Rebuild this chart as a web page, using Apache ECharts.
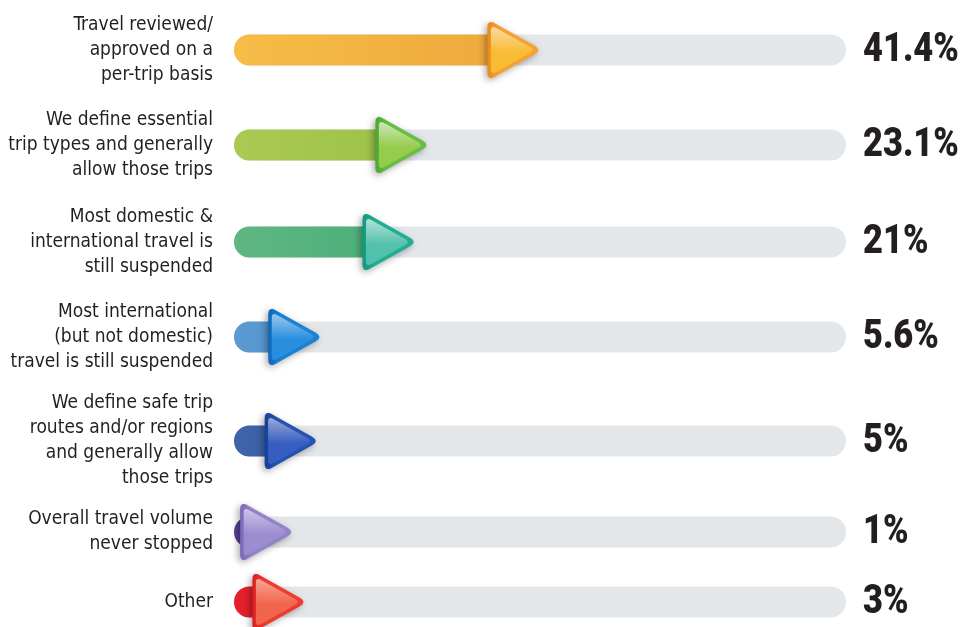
<!DOCTYPE html>
<html>
<head>
<meta charset="utf-8">
<script src="https://cdn.jsdelivr.net/npm/echarts@6/dist/echarts.min.js"></script>
<style>
  html, body { margin: 0; padding: 0; background: #ffffff; }
  #chart { width: 960px; height: 627px; }
</style>
</head>
<body>
<div id="chart"></div>
<script>
// Survey answers (share of respondents, %)
const categories = [
  'Travel reviewed/\napproved on a\nper-trip basis',
  'We define essential\ntrip types and generally\nallow those trips',
  'Most domestic &\ninternational travel is\nstill suspended',
  'Most international\n(but not domestic)\ntravel is still suspended',
  'We define safe trip\nroutes and/or regions\nand generally allow\nthose trips',
  'Overall travel volume\nnever stopped',
  'Other'
];
const values = [41.4, 23.1, 21, 5.6, 5, 1, 3];
const valueLabels = values.map(v => v + '%');

// Layout: vertical centre of each row (px) and track geometry
const rowCenters = [50, 145, 242, 337, 441, 532, 602];
const trackLeft = 234;
const trackRight = 114;
const barH = 31;
const arrowW = 55;
const arrowH = 62;

// Colours per row: bar start/end, arrow rim, arrow gloss top/bottom
const palettes = [
  { bar: ['#f6bd47', '#efa83c'], rimL: '#e98a1e', rim: '#f6a232', hiT: '#fde0b4', hiB: '#f9bf33' },
  { bar: ['#abc953', '#9cc24a'], rimL: '#4aa832', rim: '#68bd44', hiT: '#d8edc2', hiB: '#9ccd4e' },
  { bar: ['#5fb783', '#4baf79'], rimL: '#0f9a80', rim: '#1fae92', hiT: '#c4e8df', hiB: '#5ac3ae' },
  { bar: ['#5c9ad2', '#5594cf'], rimL: '#0e68b8', rim: '#1a82d4', hiT: '#a9d0f1', hiB: '#2b90e0' },
  { bar: ['#4064aa', '#3b5fa6'], rimL: '#173f9a', rim: '#2454b2', hiT: '#a6b3dd', hiB: '#3a5fc2' },
  { bar: ['#5a3f98', '#553b93'], rimL: '#7a66b8', rim: '#9483c8', hiT: '#d3cbea', hiB: '#9d8dd1' },
  { bar: ['#e3202b', '#e01e28'], rimL: '#d81f22', rim: '#ee3a30', hiT: '#f9b0a0', hiB: '#f26a50' }
];

const textColor = '#231f20';
const labelFont = '"DejaVu Sans Condensed", "Liberation Sans Narrow", "Roboto", sans-serif';
const valueFont = '"Roboto", "Inter", "DejaVu Sans", sans-serif';

// Polygon with rounded corners (quadratic curve through each vertex)
function roundedPolygon(pts, r, seg) {
  const out = [];
  const n = pts.length;
  for (let k = 0; k < n; k++) {
    const p = pts[k], prev = pts[(k + n - 1) % n], next = pts[(k + 1) % n];
    const d1 = Math.hypot(prev[0] - p[0], prev[1] - p[1]);
    const d2 = Math.hypot(next[0] - p[0], next[1] - p[1]);
    const a = [p[0] + (prev[0] - p[0]) * r / d1, p[1] + (prev[1] - p[1]) * r / d1];
    const b = [p[0] + (next[0] - p[0]) * r / d2, p[1] + (next[1] - p[1]) * r / d2];
    for (let s = 0; s <= seg; s++) {
      const t = s / seg;
      out.push([
        (1 - t) * (1 - t) * a[0] + 2 * (1 - t) * t * p[0] + t * t * b[0],
        (1 - t) * (1 - t) * a[1] + 2 * (1 - t) * t * p[1] + t * t * b[1]
      ]);
    }
  }
  return out;
}

// Shrink a triangle towards its incentre
function insetTriangle(pts, d) {
  const [A, B, C] = pts;
  const a = Math.hypot(B[0] - C[0], B[1] - C[1]);
  const b = Math.hypot(A[0] - C[0], A[1] - C[1]);
  const c = Math.hypot(A[0] - B[0], A[1] - B[1]);
  const s = a + b + c;
  const ix = (a * A[0] + b * B[0] + c * C[0]) / s;
  const iy = (a * A[1] + b * B[1] + c * C[1]) / s;
  const area = Math.abs((B[0] - A[0]) * (C[1] - A[1]) - (C[0] - A[0]) * (B[1] - A[1])) / 2;
  const inr = area / (s / 2);
  const f = (inr - d) / inr;
  return pts.map(p => [ix + (p[0] - ix) * f, iy + (p[1] - iy) * f]);
}

function renderRow(i) {
  const pal = palettes[i];
  return function (params, api) {
    const start = api.coord([0, 0]);
    const end = api.coord([100, 0]);
    const head = api.coord([api.value(0), 0]);
    const cy = start[1];
    const x0 = start[0], x1 = end[0], xv = head[0];
    const r = barH / 2;

    const tri = [[xv, cy - arrowH / 2], [xv + arrowW, cy], [xv, cy + arrowH / 2]];
    const inner = insetTriangle(tri, 3.5);

    return {
      type: 'group',
      children: [
        { // grey track
          type: 'rect',
          shape: { x: x0, y: cy - barH / 2, width: x1 - x0, height: barH, r: r },
          style: { fill: '#e3e7ea' }
        },
        { // coloured bar, running under the arrow head
          type: 'rect',
          shape: { x: x0, y: cy - barH / 2, width: Math.max(xv - x0 + 20, barH), height: barH, r: [r, 0, 0, r] },
          style: {
            fill: new echarts.graphic.LinearGradient(0, 0, 1, 0, [
              { offset: 0, color: pal.bar[0] }, { offset: 1, color: pal.bar[1] }
            ])
          }
        },
        { // arrow head rim
          type: 'polygon',
          shape: { points: roundedPolygon(tri, 9, 8) },
          style: {
            fill: new echarts.graphic.LinearGradient(0, 0, 1, 0, [
              { offset: 0, color: pal.rimL }, { offset: 0.25, color: pal.rim }, { offset: 1, color: pal.rim }
            ]),
            shadowColor: 'rgba(0,0,0,0.35)',
            shadowBlur: 7,
            shadowOffsetX: -2,
            shadowOffsetY: 2
          }
        },
        { // arrow head gloss
          type: 'polygon',
          shape: { points: roundedPolygon(inner, 6, 6) },
          style: {
            fill: new echarts.graphic.LinearGradient(0, 0, 0, 1, [
              { offset: 0, color: pal.hiT }, { offset: 0.55, color: pal.hiB }, { offset: 1, color: pal.hiB }
            ]),
            opacity: 0.9
          }
        },
        { // percentage beside the track
          type: 'text',
          x: x1 + 17,
          y: cy + 1,
          scaleX: 0.86,
          style: {
            text: valueLabels[i],
            fontFamily: valueFont,
            fontWeight: 900,
            fontSize: 40,
            fill: textColor,
            align: 'left',
            verticalAlign: 'middle'
          }
        }
      ]
    };
  };
}

const grid = [], xAxis = [], yAxis = [], series = [];
categories.forEach((cat, i) => {
  grid.push({
    left: trackLeft, right: trackRight, top: rowCenters[i] - 31, height: 62,
    containLabel: false, outerBoundsMode: 'none'
  });
  xAxis.push({ gridIndex: i, type: 'value', min: 0, max: 100, show: false });
  yAxis.push({
    gridIndex: i, type: 'category', data: [cat],
    axisLine: { show: false }, axisTick: { show: false }, splitLine: { show: false },
    axisLabel: {
      margin: 21, align: 'right', fontSize: 19, lineHeight: 25,
      color: textColor, fontFamily: labelFont
    }
  });
  series.push({
    type: 'custom',
    xAxisIndex: i,
    yAxisIndex: i,
    data: [[values[i], 0]],
    encode: { x: 0, y: 1 },
    clip: false,
    silent: true,
    renderItem: renderRow(i)
  });
});

const chart = echarts.init(document.getElementById('chart'), null, { renderer: 'canvas' });
chart.setOption({
  animation: false,
  backgroundColor: '#ffffff',
  grid, xAxis, yAxis, series
});
</script>
</body>
</html>
